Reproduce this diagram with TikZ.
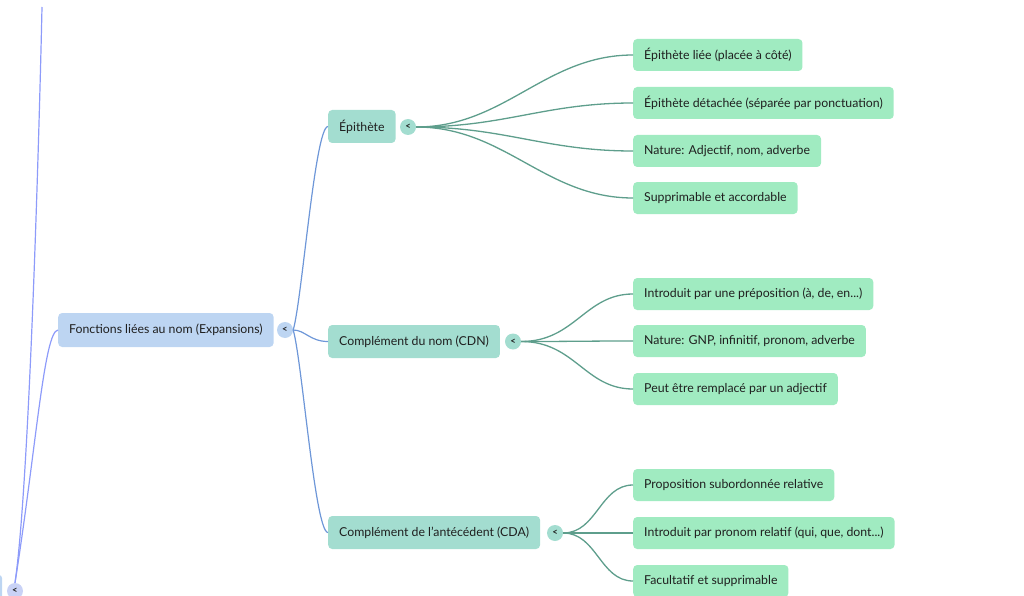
\documentclass[tikz,border=0pt]{standalone}
\usepackage{fontspec}
\setmainfont{Lato}
\begin{document}
\begin{tikzpicture}[x=1pt,y=-1pt,
  every node/.style={font=\fontsize{12.3}{14}\selectfont, text=black!88},
  box/.style={rounded corners=4pt, anchor=west, inner xsep=11pt, inner ysep=0pt},
  rootbox/.style={box, fill=rootc, minimum height=34pt},
  midbox/.style={box, fill=midc, minimum height=33pt},
  leafbox/.style={box, fill=leafc, minimum height=32pt},
  tog/.style={circle, minimum size=16pt, inner sep=0pt, font=\fontsize{9.5}{9.5}\selectfont\bfseries},
  rootlink/.style={draw=rootl, line width=1.2pt},
  midlink/.style={draw=midl, line width=1.3pt},
  leftlink/.style={draw=leftl, line width=1.2pt}
]
\definecolor{rootc}{HTML}{BDD5F2}
\definecolor{midc}{HTML}{A3DDD0}
\definecolor{leafc}{HTML}{A0EBC1}
\definecolor{rootl}{HTML}{6E97D8}
\definecolor{midl}{HTML}{5E9E8C}
\definecolor{leftl}{HTML}{8D9BFA}
\definecolor{leftc}{HTML}{C9D2F6}
\useasboundingbox (0,0) rectangle (1024,596);

% left cut-off elements
\node[fill=rootc, rounded corners=3pt, minimum width=40pt, minimum height=30pt, inner sep=0pt] (pbox) at (-18,590) {};
\node[tog, fill=leftc] (tl) at (15,591) {<};
\coordinate (top) at (42,7);
\draw[leftlink] (tl.north) .. controls (30,480) and (40,100) .. (top);

% root
\node[rootbox] (root) at (58,330) {Fonctions liées au nom (Expansions)};
\node[tog, fill=rootc] (t0) at (285,330) {<};
\draw[leftlink] (root.west) .. controls (44,331) and (36,450) .. (tl.north);

% branches
\node[midbox] (epi) at (328,126.5) {Épithète};
\node[tog, fill=midc] (t1) at (408,127) {<};
\node[midbox] (cdn) at (328,341.5) {Complément du nom (CDN)};
\node[tog, fill=midc] (t2) at (513,341.5) {<};
\node[midbox] (cda) at (328,532.5) {Complément de l'antécédent (CDA)};
\node[tog, fill=midc] (t3) at (555,533) {<};

\draw[rootlink] (t0.east) .. controls (302,300) and (315,126.5) .. (epi.west);
\draw[rootlink] (t0.east) .. controls (305,330) and (310,341.5) .. (cdn.west);
\draw[rootlink] (t0.east) .. controls (302,360) and (315,532.5) .. (cda.west);

% leaves
\node[leafbox] (l1) at (633,55) {Épithète liée (placée à côté)};
\node[leafbox] (l2) at (633,103) {Épithète détachée (séparée par ponctuation)};
\node[leafbox] (l3) at (633,151) {Nature: Adjectif, nom, adverbe};
\node[leafbox] (l4) at (633,198) {Supprimable et accordable};
\node[leafbox] (m1) at (633,294) {Introduit par une préposition (à, de, en...)};
\node[leafbox] (m2) at (633,341) {Nature: GNP, infinitif, pronom, adverbe};
\node[leafbox] (m3) at (633,389) {Peut être remplacé par un adjectif};
\node[leafbox] (n1) at (633,485) {Proposition subordonnée relative};
\node[leafbox] (n2) at (633,533) {Introduit par pronom relatif (qui, que, dont...)};
\node[leafbox] (n3) at (633,581) {Facultatif et supprimable};

\foreach \l in {l1,l2,l3,l4}
  \draw[midlink] (t1.east) .. controls (505,127) and (545,0|-\l.west) .. (\l.west);
\foreach \l in {m1,m2,m3}
  \draw[midlink] (t2.east) .. controls (575,341.5) and (585,0|-\l.west) .. (\l.west);
\foreach \l in {n1,n2,n3}
  \draw[midlink] (t3.east) .. controls (597,533) and (600,0|-\l.west) .. (\l.west);
\end{tikzpicture}
\end{document}
